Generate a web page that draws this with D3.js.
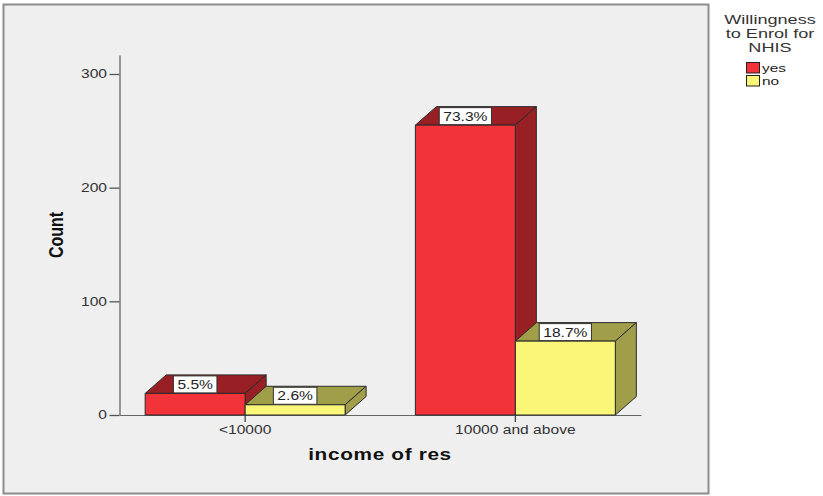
<!DOCTYPE html>
<html>
<head>
<meta charset="utf-8">
<script src="https://cdn.jsdelivr.net/npm/d3@7"></script>
<style>
  html, body { margin: 0; padding: 0; background: #ffffff; }
  svg { display: block; font-family: "Liberation Sans", Arial, sans-serif; }
</style>
</head>
<body>
<svg id="chart" width="823" height="496"></svg>
<script>
// Income group categories and the two response series
const categories = ["<10000", "10000 and above"];
const seriesNames = ["yes", "no"];
const yesCounts = [19, 255];
const noCounts = [9, 65];
const yesPct = ["5.5%", "73.3%"];
const noPct = ["2.6%", "18.7%"];
const yTicks = [0, 100, 200, 300];

const legendTitle = ["Willingness", "to Enrol for", "NHIS"];
const xTitle = "income of res";
const yTitle = "Count";

const frontColor = { yes: "#f2333a", no: "#faf677" };
const shadeColor = { yes: "#981f24", no: "#a19e4a" };

const STRETCH = 1.3;   // glyphs are drawn horizontally widened
const depthX = 21, depthY = 18.5;

const svg = d3.select("#chart");

// outer chart frame
svg.append("rect")
  .attr("x", 3.5).attr("y", 4.5).attr("width", 705).attr("height", 489)
  .attr("fill", "#efefef").attr("stroke", "#8c8c8c").attr("stroke-width", 2);

const plot = { left: 119.5, right: 641, top: 55, bottom: 415 };

const y = d3.scaleLinear().domain([0, 316.7]).range([plot.bottom, plot.top]);
const x0 = d3.scaleBand().domain(categories).range([plot.left, plot.right])
  .paddingInner(0.26).paddingOuter(0.095);
const x1 = d3.scaleBand().domain(seriesNames).range([0, x0.bandwidth()]);

const rows = categories.map((c, i) => ({
  cat: c,
  bars: [
    { key: "yes", value: yesCounts[i], pct: yesPct[i] },
    { key: "no", value: noCounts[i], pct: noPct[i] }
  ]
}));

function wideText(sel, x, yPos, str, size, anchor, weight, stretch) {
  return sel.append("text")
    .attr("transform", `translate(${x},${yPos}) scale(${stretch || STRETCH},1)`)
    .attr("text-anchor", anchor || "start")
    .attr("font-size", size)
    .attr("font-weight", weight || "normal")
    .attr("fill", "#222")
    .text(str);
}

// axes
const yAxis = svg.append("g")
  .attr("transform", `translate(${plot.left},0)`)
  .call(d3.axisLeft(y).tickValues(yTicks).tickSize(10).tickSizeOuter(0).tickFormat(d3.format("d")));
yAxis.select(".domain").attr("stroke", "#666").attr("stroke-width", 1.3);
yAxis.selectAll(".tick line").attr("stroke", "#555").attr("stroke-width", 1.3);
yAxis.selectAll(".tick text")
  .attr("x", -12.5 / STRETCH)
  .attr("transform", `scale(${STRETCH},1)`)
  .attr("font-size", 12).attr("fill", "#333")
  .attr("font-family", "Liberation Sans, Arial, sans-serif");

const xAxis = svg.append("g")
  .attr("transform", `translate(0,${plot.bottom})`)
  .call(d3.axisBottom(x0).tickSize(7).tickSizeOuter(0).tickPadding(3));
xAxis.select(".domain").attr("stroke", "#666").attr("stroke-width", 1);
xAxis.selectAll(".tick line").attr("stroke", "#444").attr("stroke-width", 1.3);
xAxis.selectAll(".tick text")
  .attr("transform", `scale(${STRETCH},1)`)
  .attr("font-size", 12).attr("fill", "#333")
  .attr("font-family", "Liberation Sans, Arial, sans-serif");

// 3D bars
const barsLayer = svg.append("g");
rows.forEach(row => {
  const gx = x0(row.cat);
  row.bars.forEach(b => {
    const xa = gx + x1(b.key), xb = xa + x1.bandwidth();
    const yt = y(b.value), yb = y(0);
    const g = barsLayer.append("g").attr("stroke", "#2a2a2a").attr("stroke-width", 1)
      .attr("stroke-linejoin", "round");
    // top face
    g.append("polygon")
      .attr("points", [[xa, yt], [xa + depthX, yt - depthY], [xb + depthX, yt - depthY], [xb, yt]].join(" "))
      .attr("fill", shadeColor[b.key]);
    // right side face
    g.append("polygon")
      .attr("points", [[xb, yt], [xb + depthX, yt - depthY], [xb + depthX, yb - depthY], [xb, yb]].join(" "))
      .attr("fill", shadeColor[b.key]);
    // front face
    g.append("rect")
      .attr("x", xa).attr("y", yt).attr("width", xb - xa).attr("height", yb - yt)
      .attr("fill", frontColor[b.key]);
    b.cx = (xa + xb) / 2;
    b.yt = yt;
  });
});

// percentage labels on the top faces
const labelLayer = svg.append("g");
rows.forEach(row => {
  row.bars.forEach(b => {
    const lg = labelLayer.append("g");
    const box = lg.append("rect").attr("fill", "#ffffff").attr("stroke", "#333").attr("stroke-width", 1);
    const t = wideText(lg, b.cx, b.yt - 4.5, b.pct, 12, "middle");
    const w = t.node().getComputedTextLength() * STRETCH + 8;
    box.attr("x", b.cx - w / 2).attr("y", b.yt - 17.5).attr("width", w).attr("height", 17);
  });
});

// axis titles
svg.append("text")
  .attr("transform", `translate(63,235) scale(${STRETCH},1) rotate(-90)`)
  .attr("text-anchor", "middle").attr("font-size", 16).attr("font-weight", "bold")
  .attr("fill", "#111").text(yTitle);
wideText(svg, 380, 460, xTitle, 16, "middle", "bold")
  .attr("letter-spacing", 0.5).attr("fill", "#111");

// legend
legendTitle.forEach((line, i) => {
  wideText(svg, 770, 23.5 + i * 14, line, 12.5, "middle", "normal", 1.45).attr("fill", "#333");
});
const legendRows = svg.append("g");
seriesNames.forEach((s, i) => {
  const yy = 62.5 + i * 13;
  legendRows.append("rect")
    .attr("x", 746.5).attr("y", yy).attr("width", 13).attr("height", 10.5)
    .attr("fill", frontColor[s]).attr("stroke", "#222").attr("stroke-width", 1);
  wideText(legendRows, 762, yy + 9.5, s, 11, "start", "normal", 1.4).attr("fill", "#222");
});
</script>
</body>
</html>
